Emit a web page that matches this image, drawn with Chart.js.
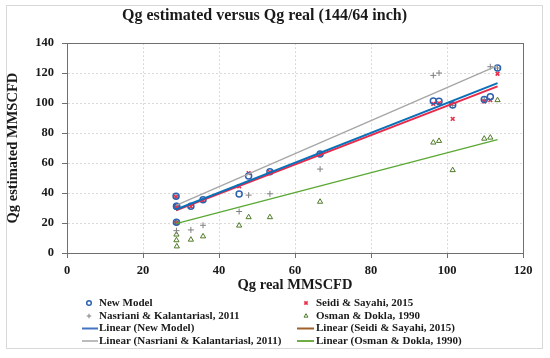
<!DOCTYPE html>
<html>
<head>
<meta charset="utf-8">
<script src="https://cdn.jsdelivr.net/npm/chart.js@4"></script>
<style>
  html, body { margin: 0; padding: 0; background: #ffffff; }
  #wrap { width: 550px; height: 358px; position: relative; }
</style>
</head>
<body>
<div id="wrap"><canvas id="c" width="550" height="358"></canvas></div>
<script>
// ---- data ----
const qgReal    = [28.7, 28.8, 28.8, 28.9, 32.6, 35.8, 45.3, 47.8, 53.4, 66.6, 96.4, 97.9, 101.5, 109.8, 111.4, 113.3];
const newModel  = [37.8, 31.2, 20.5, 31.0, 31.2, 35.5, 39.3, 51.3, 54.2, 66.0, 101.5, 101.3, 98.7, 102.5, 104.2, 123.4];
const seidi     = [37.5, 30.5, 20.0, 31.5, 31.0, 35.0, 44.5, 53.3, 54.0, 65.5, 99.5, 100.0, 89.5, 101.1, 102.0, 119.6];
const nasriani  = [37.5, 31.0, 14.9, 20.5, 15.4, 18.5, 27.7, 38.6, 39.5, 56.0, 118.5, 120.1, 98.5, 102.5, 124.3, 123.4];
const osman     = [20.3, 12.3, 8.5, 4.4, 8.9, 11.1, 18.3, 23.9, 23.9, 34.2, 73.7, 74.8, 55.3, 76.3, 77.0, 102.0];

// linear trend lines (values at the first and last Qg real)
const trendX         = [28.7, 113.3];
const trendNew       = [29.0, 113.4];
const trendSeidi     = [28.4, 111.2];
const trendNasriani  = [31.8, 125.0];
const trendOsman     = [19.6, 75.7];

const xMin = 0, xMax = 120, xStep = 20;
const yMin = 0, yMax = 140, yStep = 20;

const seriesNames = ['New Model', 'Seidi & Sayahi, 2015', 'Nasriani & Kalantariasl, 2011', 'Osman & Dokla, 1990'];

// ---- build ----
const pts = (ys) => qgReal.map((x, i) => ({ x: x, y: ys[i] }));
const line = (ys) => trendX.map((x, i) => ({ x: x, y: ys[i] }));

const SERIF = '"Liberation Serif", "DejaVu Serif", serif';

const C = {
  newPt: '#2c62b0', seidiPt: '#e8304a', nasPt: '#808080', osmPt: '#4f7a28',
  newLn: '#0a70b8', seidiLn: '#e8294a', nasLn: '#a6a6a6', osmLn: '#5aa834',
  legNewLn: '#4472c4', legSeidiLn: '#a0602a', legNasLn: '#a6a6a6', legOsmLn: '#70ad47'
};

const datasets = [
  { label: seriesNames[0], data: pts(newModel), pointStyle: 'circle', pointRadius: 3, pointBorderWidth: 1.5,
    borderColor: C.newPt, backgroundColor: 'rgba(255,255,255,0)', pointBackgroundColor: 'rgba(255,255,255,0)', showLine: false, order: 5 },
  { label: seriesNames[1], data: pts(seidi), pointStyle: 'crossRot', pointRadius: 2.6, pointBorderWidth: 1.6,
    borderColor: C.seidiPt, backgroundColor: C.seidiPt, showLine: false, order: 6 },
  { label: seriesNames[2], data: pts(nasriani), pointStyle: 'cross', pointRadius: 3, pointBorderWidth: 1,
    borderColor: C.nasPt, backgroundColor: C.nasPt, showLine: false, order: 7 },
  { label: seriesNames[3], data: pts(osman), pointStyle: 'triangle', pointRadius: 3, pointBorderWidth: 1,
    borderColor: C.osmPt, backgroundColor: 'rgba(255,255,255,0)', pointBackgroundColor: 'rgba(255,255,255,0)', showLine: false, order: 8 },
  { label: 'Linear (' + seriesNames[0] + ')', data: line(trendNew), showLine: true, pointRadius: 0,
    borderColor: C.newLn, borderWidth: 2, order: 1 },
  { label: 'Linear (' + seriesNames[1] + ')', data: line(trendSeidi), showLine: true, pointRadius: 0,
    borderColor: C.seidiLn, borderWidth: 2, order: 2 },
  { label: 'Linear (' + seriesNames[2] + ')', data: line(trendNasriani), showLine: true, pointRadius: 0,
    borderColor: C.nasLn, borderWidth: 1.3, order: 3 },
  { label: 'Linear (' + seriesNames[3] + ')', data: line(trendOsman), showLine: true, pointRadius: 0,
    borderColor: C.osmLn, borderWidth: 1.3, order: 4 }
];

const frame = {
  id: 'frame',
  beforeDraw(chart) {
    const ctx = chart.ctx;
    ctx.save();
    ctx.fillStyle = '#ffffff';
    ctx.fillRect(0, 0, chart.width, chart.height);
    ctx.strokeStyle = '#d9d9d9';
    ctx.lineWidth = 1;
    ctx.strokeRect(6.5, 5.5, 536, 343);
    ctx.restore();
  },
  beforeDatasetsDraw(chart) {
    const a = chart.chartArea, ctx = chart.ctx;
    ctx.save();
    ctx.strokeStyle = '#6f6f6f';
    ctx.lineWidth = 1;
    ctx.strokeRect(Math.round(a.left) + 0.5, Math.round(a.top) + 0.5,
                   Math.round(a.right - a.left), Math.round(a.bottom - a.top));
    ctx.restore();
  }
};

const legendPlugin = {
  id: 'customLegend',
  afterDraw(chart) {
    const ctx = chart.ctx;
    const cols = [{ mark: 89, l0: 82, l1: 98, text: 99 }, { mark: 306, l0: 297, l1: 314, text: 316 }];
    const rows = [303, 316, 328.5, 341];
    const items = [
      { kind: 'pt', i: 0 }, { kind: 'pt', i: 1 }, { kind: 'pt', i: 2 }, { kind: 'pt', i: 3 },
      { kind: 'ln', i: 4, c: C.legNewLn, w: 2 },
      { kind: 'ln', i: 5, c: C.legSeidiLn, w: 2 },
      { kind: 'ln', i: 6, c: C.legNasLn, w: 1.5 },
      { kind: 'ln', i: 7, c: C.legOsmLn, w: 2 }
    ];
    ctx.save();
    ctx.font = 'bold 11px ' + SERIF;
    ctx.textBaseline = 'middle';
    ctx.textAlign = 'left';
    items.forEach((it, k) => {
      const col = cols[k % 2], y = rows[Math.floor(k / 2)];
      const ds = datasets[it.i];
      ctx.save();
      if (it.kind === 'pt') {
        ctx.strokeStyle = ds.borderColor;
        ctx.fillStyle = ds.pointBackgroundColor || ds.backgroundColor;
        ctx.lineWidth = ds.pointBorderWidth;
        Chart.helpers.drawPoint(ctx, {
          pointStyle: ds.pointStyle, radius: Math.min(ds.pointRadius, 2.3), rotation: 0,
          borderWidth: ds.pointBorderWidth
        }, col.mark, y);
      } else {
        ctx.strokeStyle = it.c;
        ctx.lineWidth = it.w;
        ctx.beginPath();
        ctx.moveTo(col.l0, y);
        ctx.lineTo(col.l1, y);
        ctx.stroke();
      }
      ctx.restore();
      ctx.fillStyle = '#1a1a1a';
      ctx.fillText(ds.label, col.text, y);
    });
    ctx.restore();
  }
};

new Chart(document.getElementById('c'), {
  type: 'scatter',
  data: { datasets: datasets },
  plugins: [frame, legendPlugin],
  options: {
    responsive: false,
    animation: false,
    layout: { padding: { left: 6, right: 27, top: 0, bottom: 66 } },
    plugins: {
      legend: { display: false },
      tooltip: { enabled: false },
      title: {
        display: true,
        text: 'Qg estimated versus Qg real (144/64 inch)',
        color: '#1a1a1a',
        font: { family: SERIF, size: 16, weight: 'bold' },
        padding: { top: 6, bottom: 18 }
      }
    },
    scales: {
      x: {
        type: 'linear', min: xMin, max: xMax,
        ticks: { stepSize: xStep, color: '#1a1a1a', font: { family: SERIF, size: 12.5, weight: 'bold' }, padding: 5, maxRotation: 0 },
        grid: { color: '#d9d9d9', tickColor: '#6f6f6f', tickLength: 5, drawTicks: true },
        border: { display: true, color: '#6f6f6f', width: 1, dash: [2, 2] },
        title: { display: true, text: 'Qg real MMSCFD', color: '#1a1a1a',
                 font: { family: SERIF, size: 14.5, weight: 'bold', lineHeight: 1.0 }, padding: { top: 0, bottom: 0 } },
        afterFit(s) { s.height = 39; }
      },
      y: {
        type: 'linear', min: yMin, max: yMax,
        ticks: { stepSize: yStep, color: '#1a1a1a', font: { family: SERIF, size: 12.5, weight: 'bold' }, padding: 8 },
        grid: { color: '#d9d9d9', tickColor: '#6f6f6f', tickLength: 5, drawTicks: true },
        border: { display: true, color: '#6f6f6f', width: 1, dash: [2, 2] },
        title: { display: true, text: 'Qg estimated MMSCFD', color: '#1a1a1a',
                 font: { family: SERIF, size: 14.5, weight: 'bold', lineHeight: 1.0 }, padding: { top: 0, bottom: 0 } },
        afterFit(s) { s.width = 61; }
      }
    }
  }
});
</script>
</body>
</html>
